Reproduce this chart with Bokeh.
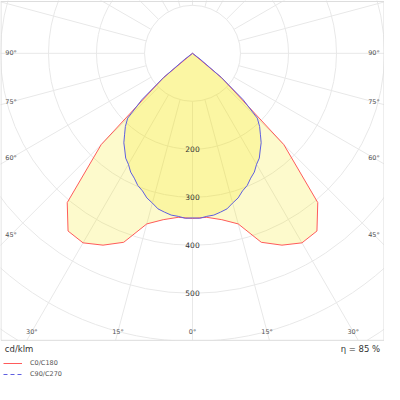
import numpy as np
from bokeh.plotting import figure
from bokeh.models import Range1d, Legend, LegendItem
from bokeh.embed import file_html
from bokeh.resources import INLINE
from bokeh.core.properties import value

# ---------------- data ----------------
gamma_c0 = [0, 5, 10, 15, 20, 25, 30, 35, 40, 45, 50, 55, 60, 65, 70, 75, 80, 85, 90]
c0_c180 = [344, 343, 352, 368, 419, 441, 456, 452, 406, 269, 80, 0, 0, 0, 0, 0, 0, 0, 0]

gamma_c90 = [0, 2.5, 5, 7.5, 10, 12.5, 15, 17.5, 20, 22.5, 25, 27.5, 30, 32.5, 35,
             37.5, 40, 42.5, 45, 47.5, 50, 52.5, 55, 60, 65, 70, 75, 80, 85, 90]
c90_c270 = [343, 344, 341, 340, 336, 332, 323, 316, 305, 298, 287, 279, 267, 259, 246,
            235, 220, 207, 191, 143, 78, 20, 0, 0, 0, 0, 0, 0, 0, 0]

circle_values = [100, 200, 300, 400, 500, 600, 700]
circle_label_values = [200, 300, 400, 500]
angle_ticks = [0, 15, 30, 45, 60, 75, 90]
radial_step = 15
series_names = ["C0/C180", "C90/C270"]
unit_label = "cd/klm"
efficiency_label = "\u03b7 = 85 %"

# ---------------- styles ----------------
FONT = "DejaVu Sans"
GRID = "#e8e8e8"
RED = "#ff5b5b"
BLUE = "#5f5fe0"
FILL = "#f6e600"


def polar(g, r):
    th = np.radians(np.asarray(g, dtype=float))
    r = np.asarray(r, dtype=float)
    return r * np.sin(th), -r * np.cos(th)


def full_curve(gam, vals):
    g = [-x for x in reversed(gam)] + list(gam[1:])
    v = list(reversed(vals)) + list(vals[1:])
    return polar(g, v)


p = figure(width=384, height=384, output_backend="svg", toolbar_location=None,
           x_range=Range1d(-400, 400), y_range=Range1d(-690, 110),
           x_axis_type=None, y_axis_type=None, min_border=0,
           outline_line_color=None, background_fill_color="white",
           border_fill_color="white")

# grid circles
n = len(circle_values)
p.circle(x=[0] * n, y=[0] * n, radius=circle_values, fill_color=None,
         line_color=GRID, line_width=1)

# radial lines from the first circle outward
angs = np.arange(0, 360, radial_step)
x0, y0 = polar(angs, [circle_values[0]] * len(angs))
x1, y1 = polar(angs, [1000] * len(angs))
p.segment(x0=x0, y0=y0, x1=x1, y1=y1, line_color=GRID, line_width=1)

# white band under the polar frame (texts & legend area)
frame_bottom = -598
p.quad(left=-400, right=400, top=frame_bottom, bottom=-700, fill_color="white",
       line_color=None)
# frame
p.quad(left=-399, right=399, top=108, bottom=frame_bottom, fill_color=None,
       line_color="#dcdcdc", line_width=1)

# curves
xr, yr = full_curve(gamma_c0, c0_c180)
xb, yb = full_curve(gamma_c90, c90_c270)
p.patch(xr, yr, fill_color=FILL, fill_alpha=0.2, line_color=None)
p.patch(xb, yb, fill_color=FILL, fill_alpha=0.2, line_color=None)
r_red = p.line(xr, yr, line_color=RED, line_width=1)
p.line(xb, yb, line_color=BLUE, line_width=1)
# legend-only sample of the dashed C90/C270 style (a single point draws nothing)
r_blue_leg = p.line([0], [0], line_color=BLUE, line_width=1, line_dash="4 3")

# circle labels
p.text(x=[0] * len(circle_label_values), y=[-v for v in circle_label_values],
       text=[str(v) for v in circle_label_values], text_align="center",
       text_baseline="middle", text_font=value(FONT),
       text_font_size=value("7.5px"), text_color="#333333")

# angle labels on the frame
inset_x, inset_y = 378, 580
lx, ly, lt = [], [], []
for side in (-1, 1):
    for g in angle_ticks:
        if side == -1 and g == 0:
            continue
        s, c = np.sin(np.radians(g)), np.cos(np.radians(g))
        t = min(inset_x / s if s > 1e-9 else 1e9, inset_y / c if c > 1e-9 else 1e9)
        lx.append(side * t * s)
        ly.append(-t * c)
        lt.append(f"{g}\u00b0")
p.text(x=lx, y=ly, text=lt, text_align="center", text_baseline="middle",
       text_font=value(FONT), text_font_size=value("6.5px"), text_color="#555555")

# footer texts
p.text(x=[-391], y=[-616], text=[unit_label], text_align="left",
       text_baseline="middle", text_font=value(FONT),
       text_font_size=value("8.5px"), text_color="#333333")
p.text(x=[391], y=[-616], text=[efficiency_label], text_align="right",
       text_baseline="middle", text_font=value(FONT),
       text_font_size=value("8.5px"), text_color="#333333")

legend = Legend(items=[LegendItem(label=series_names[0], renderers=[r_red]),
                       LegendItem(label=series_names[1], renderers=[r_blue_leg])],
                location=(3, 5), background_fill_alpha=0, border_line_color=None,
                padding=0, margin=0, spacing=1, glyph_width=19, glyph_height=10,
                label_height=10, label_standoff=8, label_text_font=FONT,
                label_text_font_size="6.5px", label_text_color="#555555")
p.add_layout(legend)

open("out.html", "w").write(file_html(p, INLINE))
